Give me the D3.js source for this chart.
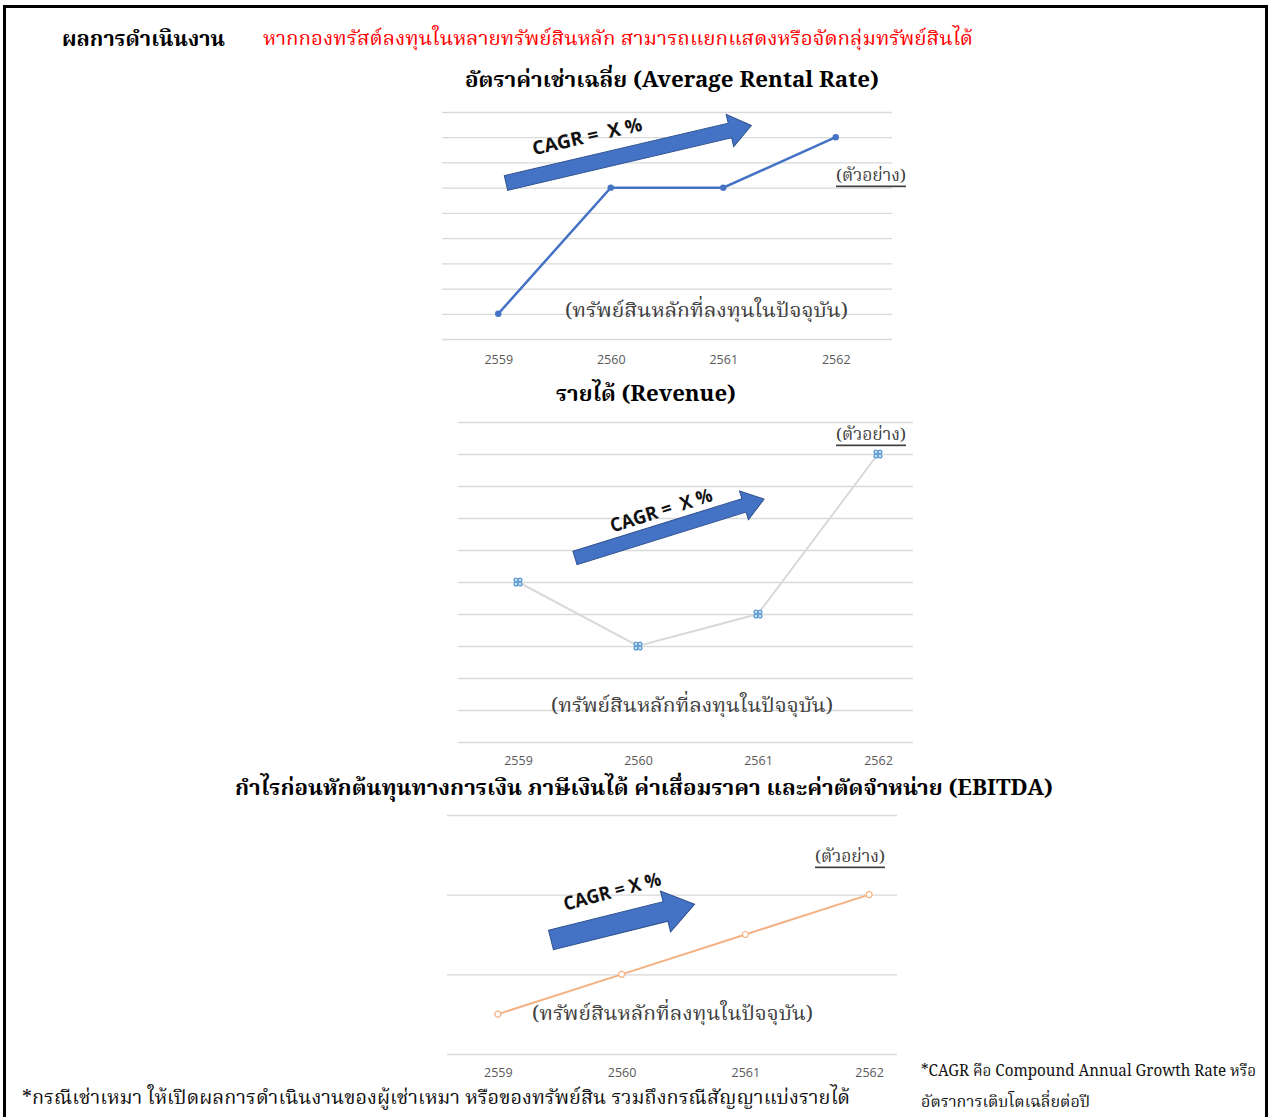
<!DOCTYPE html>
<html>
<head>
<meta charset="utf-8">
<script src="https://cdn.jsdelivr.net/npm/d3@7"></script>
<style>
  body { margin: 0; background: #fff; }
  svg { display: block; }
  .grid line { stroke: #d9d9d9; stroke-width: 1.3; }
  .grid path { display: none; }
  .xaxis path, .xaxis line { display: none; }
  .xaxis text { fill: #595959; font-family: "Open Sans", "Noto Sans", sans-serif; font-size: 12.5px; }
  .thai { font-family: "Noto Serif Thai", "Noto Sans Thai", "Liberation Serif", serif; }
</style>
</head>
<body>
<div id="page"></div>
<script>
// ---------------- data ----------------
var years = ["2559", "2560", "2561", "2562"];
var rentalRate = [1, 6, 6, 8];
var revenue = [5, 3, 4, 9];
var ebitda = [0.5, 1, 1.5, 2];

var headerLabel = "ผลการดำเนินงาน";
var headerNote = "หากกองทรัสต์ลงทุนในหลายทรัพย์สินหลัก สามารถแยกแสดงหรือจัดกลุ่มทรัพย์สินได้";
var titles = [
  "อัตราค่าเช่าเฉลี่ย (Average Rental Rate)",
  "รายได้ (Revenue)",
  "กำไรก่อนหักต้นทุนทางการเงิน  ภาษีเงินได้ ค่าเสื่อมราคา และค่าตัดจำหน่าย (EBITDA)"
];
var cagrLabels = ["CAGR =\u00a0 X %", "CAGR =\u00a0 X %", "CAGR = X %"];
var sampleLabel = "(ตัวอย่าง)";
var assetLabel = "(ทรัพย์สินหลักที่ลงทุนในปัจจุบัน)";
var footLeft = "*กรณีเช่าเหมา ให้เปิดผลการดำเนินงานของผู้เช่าเหมา หรือของทรัพย์สิน รวมถึงกรณีสัญญาแบ่งรายได้";
var footRight1 = "*CAGR คือ Compound Annual Growth Rate หรือ";
var footRight2 = "อัตราการเติบโตเฉลี่ยต่อปี";

// ---------------- layout ----------------
var W = 1274, H = 1117;
var svg = d3.select("#page").append("svg")
    .attr("width", W)
    .attr("height", H);

// page frame
svg.append("rect")
    .attr("x", 4.5).attr("y", 6.5)
    .attr("width", 1262).attr("height", 1120)
    .attr("fill", "none")
    .attr("stroke", "#000")
    .attr("stroke-width", 3);

function addText(x, y, str, opts) {
    var t = svg.append("text")
        .attr("x", x).attr("y", y)
        .attr("class", "thai")
        .attr("dominant-baseline", "central")
        .attr("text-anchor", opts.anchor || "start")
        .style("font-size", opts.size + "px")
        .style("font-weight", opts.bold ? "bold" : "normal")
        .style("fill", opts.color || "#000")
        .text(str);
    if (opts.len) t.attr("textLength", opts.len).attr("lengthAdjust", "spacingAndGlyphs");
    if (opts.underline) t.style("text-decoration", "underline");
    return t;
}

// header
addText(62, 40, headerLabel, {size: 21, bold: true, len: 163});
addText(263, 40, headerNote, {size: 19, color: "#ff0000", len: 710});

// chart settings (positions only)
var charts = [
  {values: rentalRate, xr: [442, 892], gx: [442, 892], yd: [0, 9], yr: [339, 112], tickY: 360,
   color: "#4472c4", width: 2.5, marker: "dot",
   title: {x: 672, y: 81, len: 414}, sample: {x: 836, y: 176, len: 70}, asset: {x: 565, y: 312, len: 283},
   arrow: {x: 506, y: 183, ang: -13.2, len: 252, w: 15, hw: 33, hl: 22},
   cagr: {x: 587, y: 136, ang: -12.8, len: 112}},
  {values: revenue, xr: [458, 938], gx: [458, 913], yd: [0, 10], yr: [742, 422], tickY: 761,
   color: "#d9d9d9", width: 2, marker: "clover",
   title: {x: 646, y: 395, len: 180}, sample: {x: 836, y: 435, len: 70}, asset: {x: 551, y: 707, len: 282},
   arrow: {x: 575, y: 558, ang: -17.3, len: 198, w: 14, hw: 30, hl: 21},
   cagr: {x: 661, y: 510, ang: -17.5, len: 106}},
  {values: ebitda, xr: [436, 931], gx: [447, 897], yd: [0, 3], yr: [1054, 815], tickY: 1073,
   color: "#f4b183", width: 2, marker: "ring",
   title: {x: 644, y: 789, len: 818}, sample: {x: 815, y: 857, len: 70}, asset: {x: 532, y: 1015, len: 281},
   arrow: {x: 551, y: 940, ang: -14, len: 148, w: 20, hw: 42, hl: 30},
   cagr: {x: 612, y: 891, ang: -15, len: 100}}
];

charts.forEach(function(c, i) {
    var x = d3.scalePoint().domain(years).range(c.xr).padding(0.5);
    var y = d3.scaleLinear().domain(c.yd).range(c.yr);
    var data = years.map(function(yr, j) { return {year: yr, value: c.values[j]}; });

    // gridlines
    svg.append("g")
        .attr("class", "grid")
        .attr("transform", "translate(" + c.gx[0] + ",0)")
        .call(d3.axisLeft(y)
            .tickValues(d3.range(c.yd[0], c.yd[1] + 1))
            .tickSize(-(c.gx[1] - c.gx[0]))
            .tickFormat(""));

    // category axis
    svg.append("g")
        .attr("class", "xaxis")
        .attr("transform", "translate(0," + c.tickY + ")")
        .call(d3.axisBottom(x).tickSize(0).tickPadding(0))
        .selectAll("text").attr("dy", "0.35em");

    // title
    addText(c.title.x, c.title.y, titles[i], {size: 21, bold: true, anchor: "middle", len: c.title.len});

    // arrow annotation
    var a = c.arrow;
    var pts = [
        [0, -a.w / 2], [a.len - a.hl, -a.w / 2], [a.len - a.hl, -a.hw / 2], [a.len, 0],
        [a.len - a.hl, a.hw / 2], [a.len - a.hl, a.w / 2], [0, a.w / 2]
    ];
    svg.append("path")
        .attr("d", d3.line()(pts) + "Z")
        .attr("transform", "translate(" + a.x + "," + a.y + ") rotate(" + a.ang + ")")
        .attr("fill", "#4472c4")
        .attr("stroke", "#2f528f")
        .attr("stroke-width", 1);

    svg.append("text")
        .attr("transform", "translate(" + c.cagr.x + "," + c.cagr.y + ") rotate(" + c.cagr.ang + ")")
        .attr("text-anchor", "middle")
        .attr("dominant-baseline", "central")
        .attr("textLength", c.cagr.len)
        .attr("lengthAdjust", "spacingAndGlyphs")
        .style("font-family", "'Open Sans', 'Noto Sans', sans-serif")
        .style("font-weight", "bold")
        .style("font-size", "19px")
        .style("fill", "#111")
        .text(cagrLabels[i]);

    // line
    svg.append("path")
        .datum(data)
        .attr("fill", "none")
        .attr("stroke", c.color)
        .attr("stroke-width", c.width)
        .attr("d", d3.line()
            .x(function(d) { return x(d.year); })
            .y(function(d) { return y(d.value); }));

    // markers
    var m = svg.append("g").selectAll("g")
        .data(data)
        .enter()
        .append("g")
        .attr("transform", function(d) { return "translate(" + x(d.year) + "," + y(d.value) + ")"; });

    if (c.marker == "dot") {
        m.append("circle").attr("r", 3.2).attr("fill", c.color);
    } else if (c.marker == "ring") {
        m.append("circle").attr("r", 3).attr("fill", "#fff")
            .attr("stroke", c.color).attr("stroke-width", 1.2);
    } else {
        [[-2, -2], [2, -2], [-2, 2], [2, 2]].forEach(function(o) {
            m.append("circle").attr("cx", o[0]).attr("cy", o[1]).attr("r", 1.9)
                .attr("fill", "#cfe2f5").attr("stroke", "#5b9bd5").attr("stroke-width", 1.3);
        });
    }

    // notes
    addText(c.sample.x, c.sample.y, sampleLabel, {size: 17, color: "#404040", underline: true, len: c.sample.len});
    addText(c.asset.x, c.asset.y, assetLabel, {size: 20, color: "#404040", len: c.asset.len});
});

// faint marks at left of revenue chart
svg.append("g").selectAll("circle")
    .data(d3.range(5, 11))
    .enter()
    .append("circle")
    .attr("cx", 344)
    .attr("cy", function(d) { return d3.scaleLinear().domain([0, 10]).range([742, 422])(d); })
    .attr("r", 0.8)
    .attr("fill", "#e6e6e6");

// footnotes
addText(22, 1099, footLeft, {size: 19, color: "#111", len: 828});
addText(921, 1072, footRight1, {size: 16, color: "#111", len: 335});
addText(921, 1103, footRight2, {size: 16, color: "#111", len: 169});
</script>
</body>
</html>
